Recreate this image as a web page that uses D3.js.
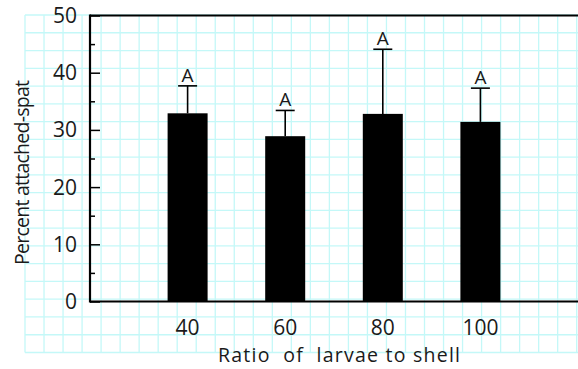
<!DOCTYPE html>
<html>
    <head>
        <meta charset="utf-8">
        <script src="https://d3js.org/d3.v7.min.js"></script>
        <style>
            body { margin: 0; background: #fff; }
            text { font-family: "Open Sans", Lato, sans-serif; fill: #1a1a1a; }
        </style>
        <script>
            // data
            const ratios = ["40", "60", "80", "100"];
            const means = [32.9, 28.9, 32.8, 31.4];
            const errs = [4.8, 4.5, 11.3, 5.9];
            const letters = ["A", "A", "A", "A"];
            const yTicks = [0, 10, 20, 30, 40, 50];
            const yMinor = [5, 15, 25, 35, 45];

            function makeSVG() {
                const width = 578;
                const height = 369;
                const margin = { left: 90, top: 15.5, right: 0, bottom: 67.5 };

                var svg = d3.select("body").append("svg")
                    .attr("width", width)
                    .attr("height", height);

                // GRID PAPER ////////////////////////////////////////
                var gx = d3.scaleLinear().domain([0, 29]).range([25, 576.7]);
                var gy = d3.scaleLinear().domain([0, 19]).range([15, 352.5]);
                var grid = svg.append("g").attr("stroke", "#c4f8f8").attr("stroke-width", 1.3);
                grid.selectAll(".gv").data(d3.range(30)).join("line")
                    .attr("x1", d => gx(d)).attr("x2", d => gx(d))
                    .attr("y1", gy(0)).attr("y2", gy(19));
                grid.selectAll(".gh").data(d3.range(20)).join("line")
                    .attr("x1", gx(0)).attr("x2", width)
                    .attr("y1", d => gy(d)).attr("y2", d => gy(d));

                // SCALES ////////////////////////////////////////////
                var xSc = d3.scalePoint().domain(ratios)
                    .range([margin.left, width - margin.right]).padding(1);
                var ySc = d3.scaleLinear().domain([0, 50])
                    .range([height - margin.bottom, margin.top]);

                // BARS //////////////////////////////////////////////
                const bw = 40;
                svg.append("g").selectAll("rect").data(means).join("rect")
                    .attr("x", (d, i) => xSc(ratios[i]) - bw / 2)
                    .attr("y", d => ySc(d))
                    .attr("width", bw)
                    .attr("height", d => ySc(0) - ySc(d))
                    .attr("fill", "#000");

                // ERROR BARS ////////////////////////////////////////
                var eb = svg.append("g").attr("stroke", "#000").attr("stroke-width", 1.6);
                eb.selectAll(".v").data(means).join("line")
                    .attr("x1", (d, i) => xSc(ratios[i])).attr("x2", (d, i) => xSc(ratios[i]))
                    .attr("y1", d => ySc(d)).attr("y2", (d, i) => ySc(d + errs[i]));
                eb.selectAll(".c").data(means).join("line")
                    .attr("x1", (d, i) => xSc(ratios[i]) - 9.5).attr("x2", (d, i) => xSc(ratios[i]) + 9.5)
                    .attr("y1", (d, i) => ySc(d + errs[i])).attr("y2", (d, i) => ySc(d + errs[i]));

                svg.append("g").selectAll("text").data(letters).join("text")
                    .attr("x", (d, i) => xSc(ratios[i]))
                    .attr("y", (d, i) => ySc(means[i] + errs[i]) - 4)
                    .attr("text-anchor", "middle")
                    .attr("font-size", 19)
                    .text(d => d);

                // AXES //////////////////////////////////////////////
                var yAx = d3.axisRight(ySc).tickValues(yTicks).tickSize(10).tickFormat("");
                svg.append("g").attr("transform", `translate(${margin.left},0)`).call(yAx)
                    .call(g => g.select(".domain").remove())
                    .call(g => g.selectAll("line").attr("stroke-width", 1.5));
                var yAx2 = d3.axisRight(ySc).tickValues(yMinor).tickSize(5).tickFormat("");
                svg.append("g").attr("transform", `translate(${margin.left},0)`).call(yAx2)
                    .call(g => g.select(".domain").remove())
                    .call(g => g.selectAll("line").attr("stroke-width", 1.5));

                svg.append("g").selectAll("text").data(yTicks).join("text")
                    .attr("x", 77)
                    .attr("y", d => ySc(d))
                    .attr("dy", "0.36em")
                    .attr("text-anchor", "end")
                    .attr("font-size", 21)
                    .text(d => d);

                svg.append("g").selectAll("text").data(ratios).join("text")
                    .attr("x", d => xSc(d))
                    .attr("y", 335)
                    .attr("text-anchor", "middle")
                    .attr("font-size", 21)
                    .text(d => d);

                // frame: left, top, bottom
                var fr = svg.append("g").attr("stroke", "#000").attr("stroke-width", 2.2);
                fr.append("line").attr("x1", margin.left).attr("x2", margin.left)
                    .attr("y1", ySc(50) - 1).attr("y2", ySc(0) + 1);
                fr.append("line").attr("x1", margin.left).attr("x2", width)
                    .attr("y1", ySc(50)).attr("y2", ySc(50));
                fr.append("line").attr("x1", margin.left).attr("x2", width)
                    .attr("y1", ySc(0)).attr("y2", ySc(0));

                // TITLES ////////////////////////////////////////////
                svg.append("text")
                    .attr("transform", `translate(29,${(ySc(0) + ySc(50)) / 2 + 14}) rotate(-90)`)
                    .attr("text-anchor", "middle")
                    .attr("font-size", 19.5)
                    .attr("textLength", 185)
                    .attr("lengthAdjust", "spacing")
                    .text("Percent attached-spat");

                svg.append("text")
                    .attr("x", 339)
                    .attr("y", 362)
                    .attr("text-anchor", "middle")
                    .attr("font-size", 19.5)
                    .attr("xml:space", "preserve")
                    .style("white-space", "pre")
                    .attr("textLength", 242)
                    .attr("lengthAdjust", "spacing")
                    .text("Ratio  of  larvae to shell");
            }
        </script>
    </head>
    <body onload="makeSVG()">
    </body>
</html>
